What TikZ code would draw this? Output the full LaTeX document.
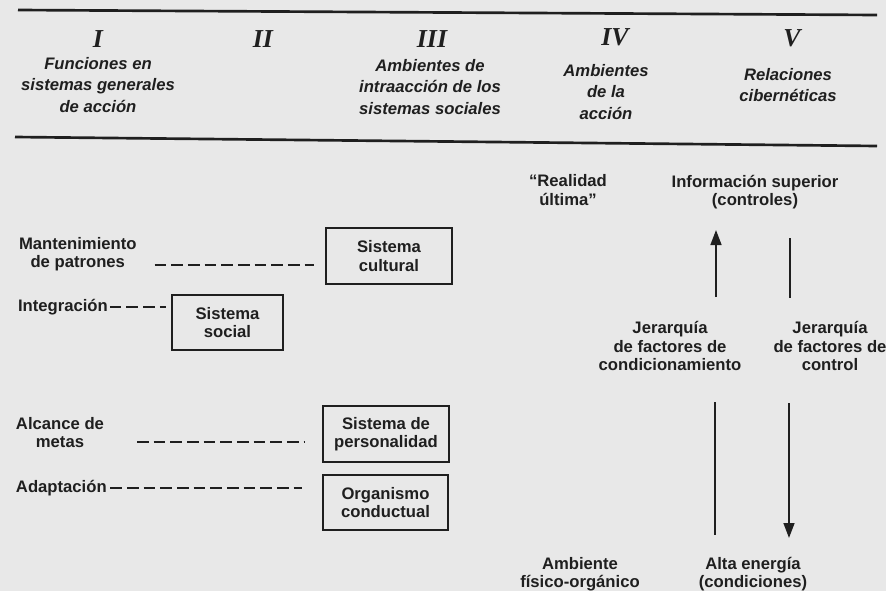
\documentclass[tikz,border=0pt]{standalone}
\usepackage{fontspec}
\setmainfont{Liberation Sans}
\newfontfamily\romanfont{Liberation Serif}
\usetikzlibrary{arrows.meta, positioning}
\definecolor{paper}{gray}{0.91}
\definecolor{ink}{gray}{0.12}

\begin{document}
\begin{tikzpicture}[
    x=0.6pt, y=-0.6pt,
    >={Triangle[length=9pt, width=6.5pt]},
    lbl/.style={text=ink, font=\bfseries\fontsize{10}{11}\selectfont, align=center, inner sep=1pt},
    head/.style={text=ink, font=\bfseries\itshape\fontsize{10}{13}\selectfont, align=center, inner sep=1pt},
    num/.style={text=ink, font=\romanfont\bfseries\itshape\fontsize{15.5}{15.5}\selectfont},
    sysbox/.style={lbl, draw=ink, line width=1.2pt, minimum width=75.5pt, minimum height=33.5pt},
    dashline/.style={draw=ink, line width=1.1pt, dash pattern=on 7pt off 3pt},
    rule/.style={draw=ink, line width=1.6pt},
    flow/.style={draw=ink, line width=1.2pt}
]
    \fill[paper] (0,0) rectangle (886,591);
    \useasboundingbox (0,0) rectangle (886,591);

    % Column heads
    \draw[rule] (18,10) -- (877,15);
    \draw[rule] (15,137) -- (877,146);
    \node[num] (numI) at (98,39) {I};
    \node[num] (numII) at (263,39) {II};
    \node[num] (numIII) at (432,39) {III};
    \node[num] (numIV) at (615,37) {IV};
    \node[num] (numV) at (792,38) {V};
    \node[head] (headI) at (98,85) {Funciones en\\sistemas generales\\de acción};
    \node[head] (headIII) at (430,87) {Ambientes de\\intraacción de los\\sistemas sociales};
    \node[head] (headIV) at (606,92) {Ambientes\\de la\\acción};
    \node[head] (headV) at (788,85) {Relaciones\\cibernéticas};

    % Systems
    \node[sysbox] (cult) at (389,256) {Sistema\\cultural};
    \node[sysbox, minimum width=66.5pt] (soc) at (227.5,322.5) {Sistema\\social};
    \node[sysbox] (pers) at (386,434) {Sistema de\\personalidad};
    \node[sysbox] (org) at (385.5,502.5) {Organismo\\conductual};

    % Functions
    \node[lbl, anchor=west] (mant) at (17,254) {Mantenimiento\\de patrones};
    \node[lbl, anchor=west] (integ) at (16,307) {Integración};
    \node[lbl, anchor=west] (alc) at (14,432.5) {Alcance de\\metas};
    \node[lbl, anchor=west] (adapt) at (14,488) {Adaptación};

    \draw[dashline, shorten <=9.6pt, shorten >=6.6pt]
        ([yshift=-6.5pt]mant.east) -- ([yshift=-6.5pt]mant.east -| cult.west);
    \draw[dashline, shorten >=3pt] (integ.east) -- (integ.east -| soc.west);
    \draw[dashline, shorten <=18.6pt, shorten >=10.8pt]
        ([yshift=-5.7pt]alc.east) -- ([yshift=-5.7pt]alc.east -| pers.west);
    \draw[dashline, shorten <=1pt, shorten >=12pt] (adapt.east) -- (adapt.east -| org.west);

    % Environments and cybernetic hierarchy
    \node[lbl] (real) at (568,190) {“Realidad\\última”};
    \node[lbl] (infosup) at (755,192) {Información superior\\(controles)};
    \node[lbl] (condic) at (670,346) {Jerarquía\\de factores de\\condicionamiento};
    \node[lbl] (ctrl) at (830,346) {Jerarquía\\de factores de\\control};
    \node[lbl] (amb) at (580,574) {Ambiente\\físico-orgánico};
    \node[lbl] (alta) at (753,574) {Alta energía\\(condiciones)};

    \coordinate (condUp1) at (716,297);
    \coordinate (condUp2) at (716,230);
    \coordinate (ctrlUp1) at (790,238);
    \coordinate (ctrlUp2) at (790,298);
    \coordinate (condDn1) at (715,402);
    \coordinate (condDn2) at (715,535);
    \coordinate (ctrlDn1) at (789,403);
    \coordinate (ctrlDn2) at (789,538);
    \draw[flow, ->] (condUp1) -- (condUp2);
    \draw[flow] (ctrlUp1) -- (ctrlUp2);
    \draw[flow] (condDn1) -- (condDn2);
    \draw[flow, ->] (ctrlDn1) -- (ctrlDn2);
\end{tikzpicture}
\end{document}
